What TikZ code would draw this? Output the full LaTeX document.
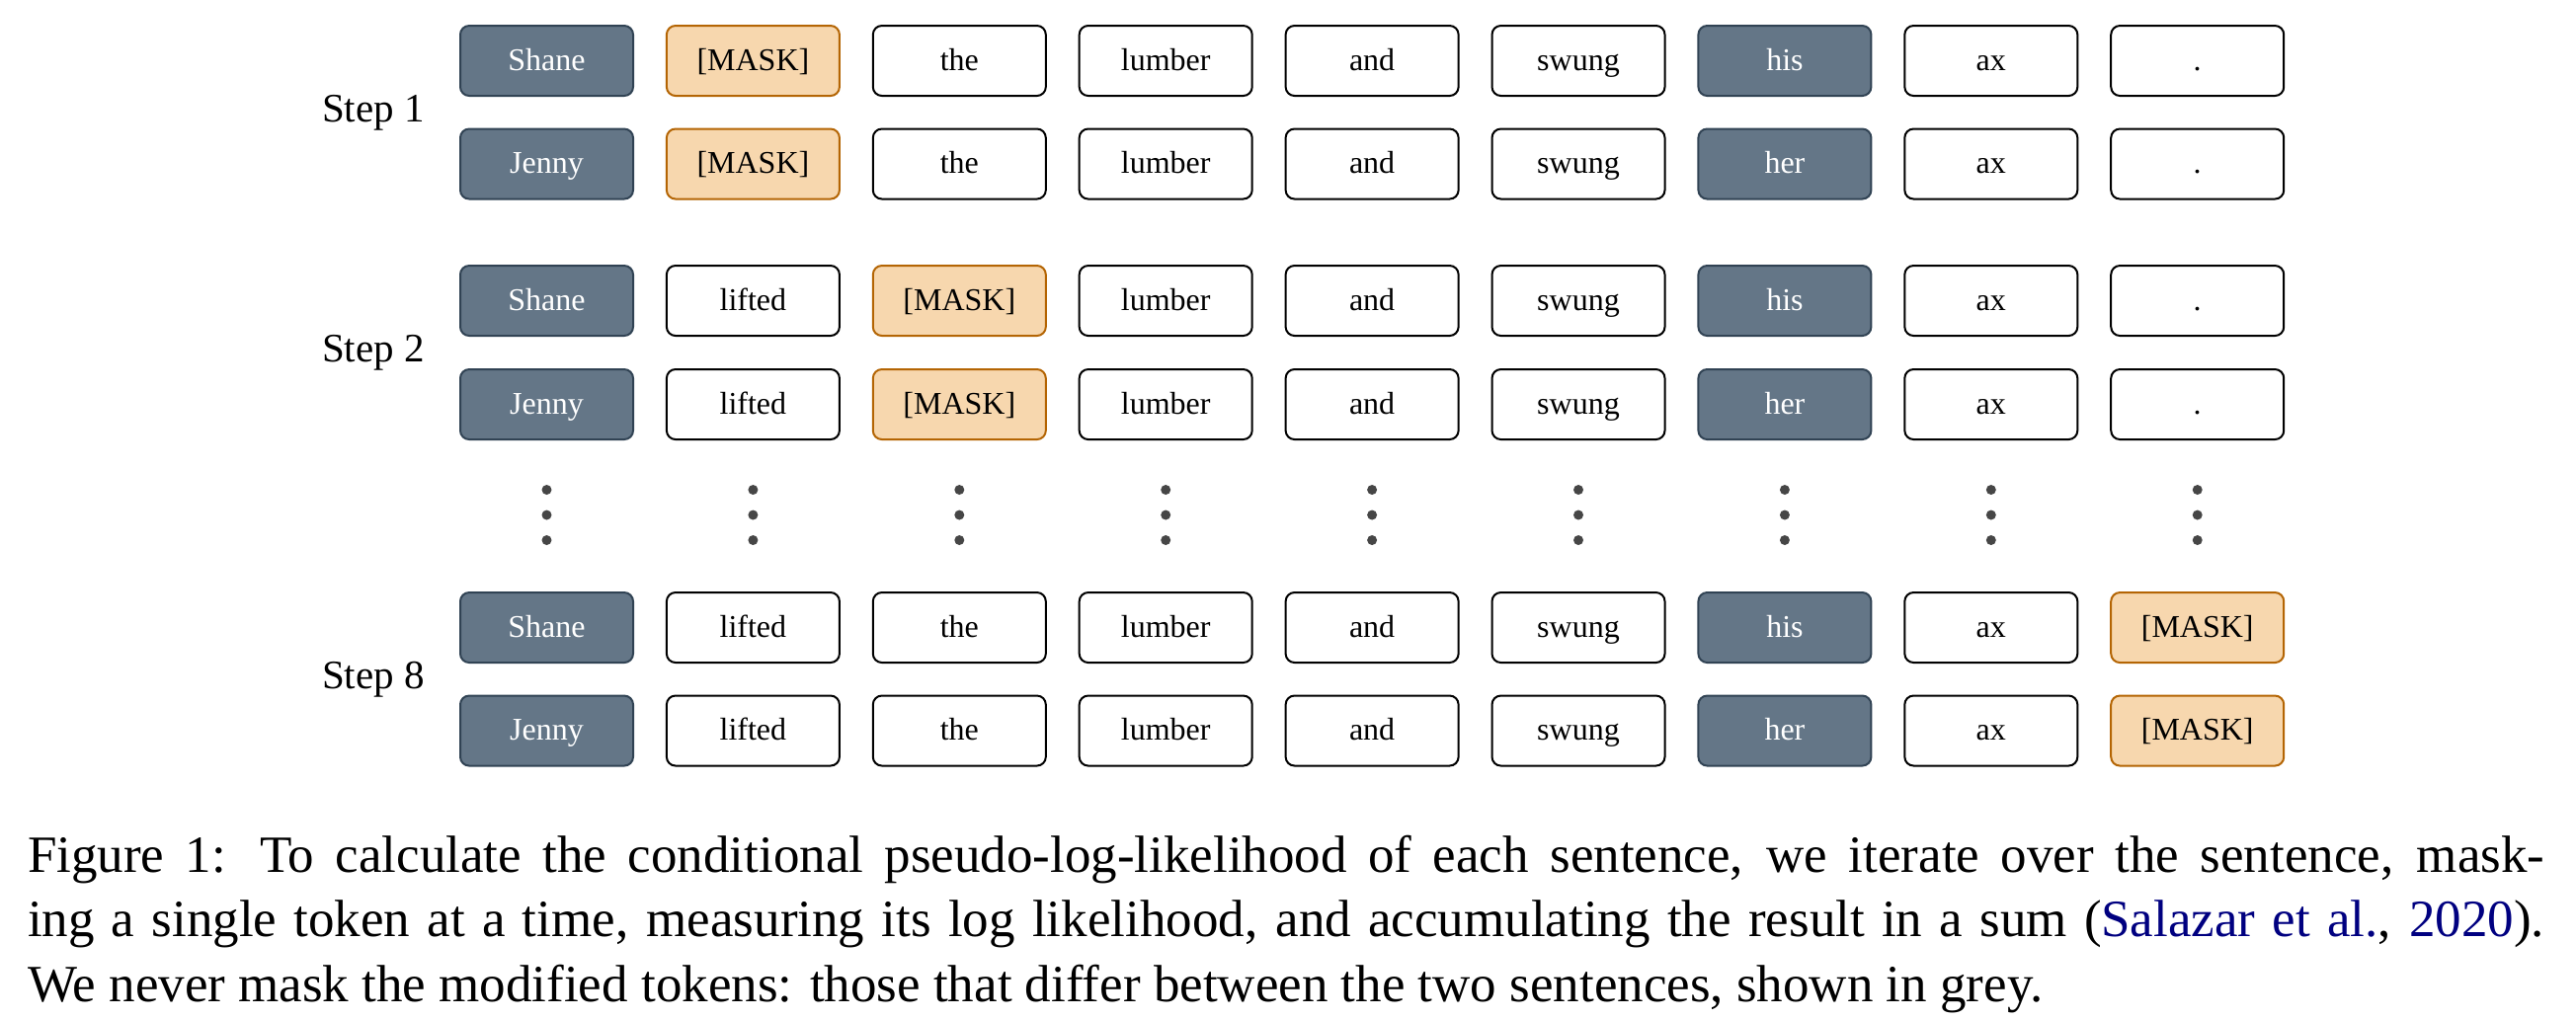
\documentclass[tikz,border=0pt]{standalone}
\usepackage{fontspec}
\setmainfont{Liberation Serif}
\definecolor{gfill}{HTML}{647687}
\definecolor{gdraw}{HTML}{314354}
\definecolor{ofill}{HTML}{F7D7AE}
\definecolor{odraw}{HTML}{B46504}
\definecolor{dotc}{HTML}{464646}
\definecolor{citec}{HTML}{000080}
\tikzset{
  tok/.style={rectangle, rounded corners=1.8pt, line width=0.4pt,
    minimum width=35pt, minimum height=14.2pt, inner sep=0pt,
    text height=4.6pt, text depth=0.8pt,
    font=\fontsize{6.4}{7.7}\selectfont},
  wh/.style={tok, draw=black, fill=white, text=black},
  gr/.style={tok, draw=gdraw, fill=gfill, text=white},
  mk/.style={tok, draw=odraw, fill=ofill, text=black},
  steplabel/.style={font=\fontsize{8.2}{9.8}\selectfont, inner sep=0pt},
  vdot/.style={circle, fill=dotc, inner sep=0pt, minimum size=2pt},
  captionbox/.style={anchor=north west, inner sep=0pt, text width=509.6pt, align=justify,
    font=\fontsize{10.6}{13.1}\selectfont}
}
\begin{document}
\begin{tikzpicture}[x=0.2pt,y=-0.2pt]
\useasboundingbox (0,0) rectangle (2608,1032);
% row 1
\foreach \t/\s [count=\i from 0] in {Shane/gr,{[MASK]}/mk,the/wh,lumber/wh,and/wh,swung/wh,his/gr,ax/wh,./wh}
  \node[\s] (ra-\i) at ({553.5+208.9*\i},61.5) {\t};
% row 2
\foreach \t/\s [count=\i from 0] in {Jenny/gr,{[MASK]}/mk,the/wh,lumber/wh,and/wh,swung/wh,her/gr,ax/wh,./wh}
  \node[\s] (rb-\i) at ({553.5+208.9*\i},166) {\t};
% row 3
\foreach \t/\s [count=\i from 0] in {Shane/gr,lifted/wh,{[MASK]}/mk,lumber/wh,and/wh,swung/wh,his/gr,ax/wh,./wh}
  \node[\s] (rc-\i) at ({553.5+208.9*\i},304.5) {\t};
% row 4
\foreach \t/\s [count=\i from 0] in {Jenny/gr,lifted/wh,{[MASK]}/mk,lumber/wh,and/wh,swung/wh,her/gr,ax/wh,./wh}
  \node[\s] (rd-\i) at ({553.5+208.9*\i},409.5) {\t};
% row 5
\foreach \t/\s [count=\i from 0] in {Shane/gr,lifted/wh,the/wh,lumber/wh,and/wh,swung/wh,his/gr,ax/wh,{[MASK]}/mk}
  \node[\s] (re-\i) at ({553.5+208.9*\i},635.5) {\t};
% row 6
\foreach \t/\s [count=\i from 0] in {Jenny/gr,lifted/wh,the/wh,lumber/wh,and/wh,swung/wh,her/gr,ax/wh,{[MASK]}/mk}
  \node[\s] (rf-\i) at ({553.5+208.9*\i},740) {\t};
% vertical dots
\foreach \i in {0,...,8} {
  \node[vdot] (da-\i) at ({553.5+208.9*\i},496) {};
  \node[vdot] (db-\i) at ({553.5+208.9*\i},521.5) {};
  \node[vdot] (dc-\i) at ({553.5+208.9*\i},547) {};
}
% step labels
\node[steplabel] (s1) at (378,114) {Step 1};
\node[steplabel] (s2) at (378,357) {Step 2};
\node[steplabel] (s8) at (378,688) {Step 8};
% caption
\node[captionbox] (cap) at (27,845) {\hyphenpenalty=10000\exhyphenpenalty=10000
Figure~1: To calculate the conditional pseudo-log-likelihood of each sentence, we iterate over the sentence, mask-\linebreak ing a single token at a time, measuring its log likelihood, and accumulating the result in a sum (\textcolor{citec}{Salazar et al.}, \textcolor{citec}{2020}).\linebreak We never mask the modified tokens: those that differ between the two sentences, shown in grey.};
\end{tikzpicture}
\end{document}
